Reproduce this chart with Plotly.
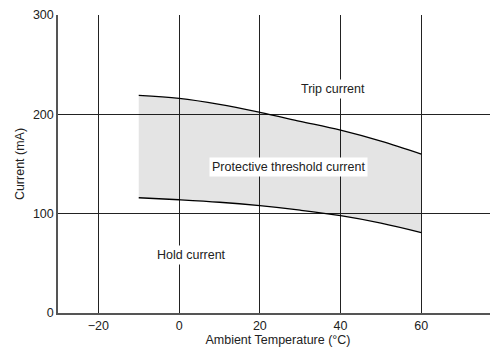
import plotly.graph_objects as go

temps = [-10, 0, 10, 20, 30, 40, 50, 60]
trip_current = [219, 216, 210, 202, 193, 184, 173, 160]
hold_current = [116, 114, 111.5, 108, 103.5, 98, 90.5, 81]

x_ticks = [-20, 0, 20, 40, 60]
y_ticks = [0, 100, 200, 300]

labels = ["Trip current", "Protective threshold current", "Hold current"]
label_x = [38, 27, 3]
label_y = [226, 147, 58]

font = dict(family="Liberation Sans, Arial, sans-serif", size=12.5, color="#222")

fig = go.Figure()
fig.add_trace(go.Scatter(x=temps, y=hold_current, mode="lines",
                         line=dict(color="black", width=1.3, shape="spline"),
                         showlegend=False, hoverinfo="skip"))
fig.add_trace(go.Scatter(x=temps, y=trip_current, mode="lines",
                         line=dict(color="black", width=1.3, shape="spline"),
                         fill="tonexty", fillcolor="rgba(0,0,0,0.105)",
                         showlegend=False, hoverinfo="skip"))

for t, xx, yy in zip(labels, label_x, label_y):
    fig.add_annotation(x=xx, y=yy, text=t, showarrow=False, font=font,
                       bgcolor="white", borderpad=2)

# page body has an 8px default margin, so the figure is sized to fit
fig.update_layout(
    width=490, height=339,
    margin=dict(l=50, r=0, t=7, b=34),
    paper_bgcolor="white", plot_bgcolor="white",
    font=font,
)
fig.update_xaxes(range=[-30, 79], tickvals=x_ticks, showgrid=True,
                 gridcolor="#222", gridwidth=1, zeroline=False,
                 showline=True, linecolor="#555", linewidth=1.5,
                 ticks="", automargin=False,
                 title=dict(text="Ambient Temperature (°C)", standoff=3, font=font),
                 tickfont=font)
fig.update_yaxes(range=[0, 300], tickvals=y_ticks, showgrid=True,
                 gridcolor="#222", gridwidth=1, zeroline=False,
                 showline=True, linecolor="#555", linewidth=1.5,
                 ticks="", automargin=False,
                 title=dict(text="Current (mA)", standoff=6, font=font),
                 tickfont=font)

fig.write_html("out.html")
